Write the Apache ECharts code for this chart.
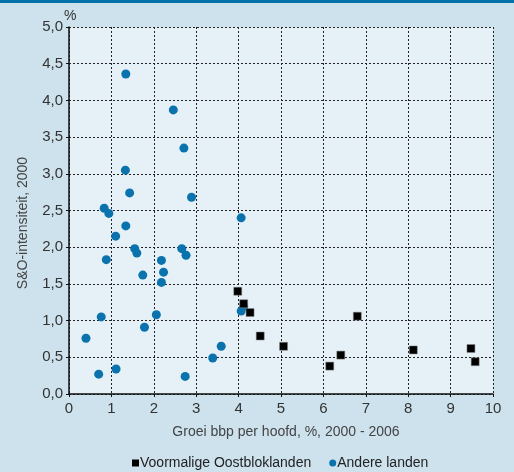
<!DOCTYPE html>
<html>
<head>
<meta charset="utf-8">
<style>
  html, body { margin: 0; padding: 0; background: #cde2ed; }
  #top { height: 3px; background: #0072aa; }
  #chart { width: 514px; height: 469px; }
</style>
<script src="https://cdn.jsdelivr.net/npm/echarts@6/dist/echarts.min.js"></script>
</head>
<body>
<div id="top"></div>
<div id="chart"></div>
<script>
// Voormalige Oostbloklanden: [groei bbp per hoofd, S&O-intensiteit]
const oostblokX = [3.98, 4.12, 4.27, 6.80, 4.51, 5.06, 6.41, 6.15, 8.12, 9.48, 9.58];
const oostblokY = [1.40, 1.23, 1.11, 1.06, 0.79, 0.65, 0.53, 0.38, 0.60, 0.62, 0.44];

// Andere landen
const andereX = [1.34, 2.46, 2.71, 1.33, 1.43, 2.89, 0.83, 0.94, 4.06, 1.34,
  1.10, 1.55, 1.60, 2.66, 2.76, 0.88, 2.18, 2.23, 1.74, 2.18,
  0.76, 2.06, 1.78, 0.40, 3.59, 3.39, 0.70, 1.11, 2.74, 4.06, 4.12];
const andereY = [4.36, 3.87, 3.35, 3.05, 2.74, 2.68, 2.53, 2.46, 2.40, 2.29,
  2.15, 1.98, 1.92, 1.98, 1.89, 1.83, 1.82, 1.66, 1.62, 1.52,
  1.05, 1.08, 0.91, 0.76, 0.65, 0.49, 0.27, 0.34, 0.24, 1.13, 1.19];

const xTicks = [0, 1, 2, 3, 4, 5, 6, 7, 8, 9, 10];
const yTicks = [0, 0.5, 1, 1.5, 2, 2.5, 3, 3.5, 4, 4.5, 5];

const pairs = (xs, ys) => xs.map((x, i) => [x, ys[i]]);
const font = "'Liberation Sans', Arial, sans-serif";
const gridLine = { show: true, lineStyle: { color: "#222", type: [2, 2], width: 1 } };

const chart = echarts.init(document.getElementById("chart"));
chart.setOption({
  animation: false,
  textStyle: { fontFamily: font },
  grid: { left: 69, right: 21, top: 24, bottom: 78, backgroundColor: "#e5f0f7", show: true, borderWidth: 0 },
  xAxis: {
    type: "value",
    min: xTicks[0],
    max: xTicks[xTicks.length - 1],
    interval: 1,
    axisLine: { onZero: false, lineStyle: { color: "#111", width: 1.5 } },
    axisTick: { show: true, length: 3, lineStyle: { color: "#111" } },
    axisLabel: { color: "#333", fontSize: 15, margin: 7 },
    splitLine: gridLine
  },
  yAxis: {
    type: "value",
    min: yTicks[0],
    max: yTicks[yTicks.length - 1],
    interval: 0.5,
    axisLine: { show: true, onZero: false, lineStyle: { color: "#111", width: 1.5 } },
    axisTick: { show: true, length: 3, lineStyle: { color: "#111" } },
    axisLabel: {
      color: "#333", fontSize: 15, margin: 6,
      formatter: (v) => v.toFixed(1).replace(".", ",")
    },
    splitLine: gridLine
  },
  graphic: [
    {
      type: "text", left: 64, top: 6,
      style: { text: "%", fill: "#333", font: "14px " + font }
    },
    {
      type: "text", x: 23, y: 220, rotation: Math.PI / 2,
      style: {
        text: "S&O-intensiteit, 2000", fill: "#444", font: "14px " + font,
        align: "center", verticalAlign: "middle"
      }
    },
    {
      type: "text", x: 286, y: 429,
      style: {
        text: "Groei bbp per hoofd, %, 2000 - 2006", fill: "#444", font: "14px " + font,
        align: "center", verticalAlign: "middle"
      }
    }
  ],
  legend: {
    top: 448,
    left: 127,
    itemGap: 18,
    itemWidth: 7,
    itemHeight: 7,
    textStyle: { color: "#222", fontSize: 14, padding: [0, 0, 0, -4] },
    data: [
      { name: "Voormalige Oostbloklanden", icon: "rect", itemStyle: { color: "#000", borderWidth: 0 } },
      { name: "Andere landen", icon: "circle", itemStyle: { color: "#0a73ad", borderWidth: 0 } }
    ]
  },
  series: [
    {
      name: "Andere landen",
      type: "scatter",
      symbol: "circle",
      symbolSize: 9,
      itemStyle: { color: "#0a73ad", opacity: 1 },
      data: pairs(andereX, andereY)
    },
    {
      name: "Voormalige Oostbloklanden",
      type: "scatter",
      symbol: "rect",
      symbolSize: 8,
      itemStyle: { color: "#000", borderColor: "#888", borderWidth: 0.5, opacity: 1 },
      data: pairs(oostblokX, oostblokY)
    }
  ]
});
</script>
</body>
</html>
